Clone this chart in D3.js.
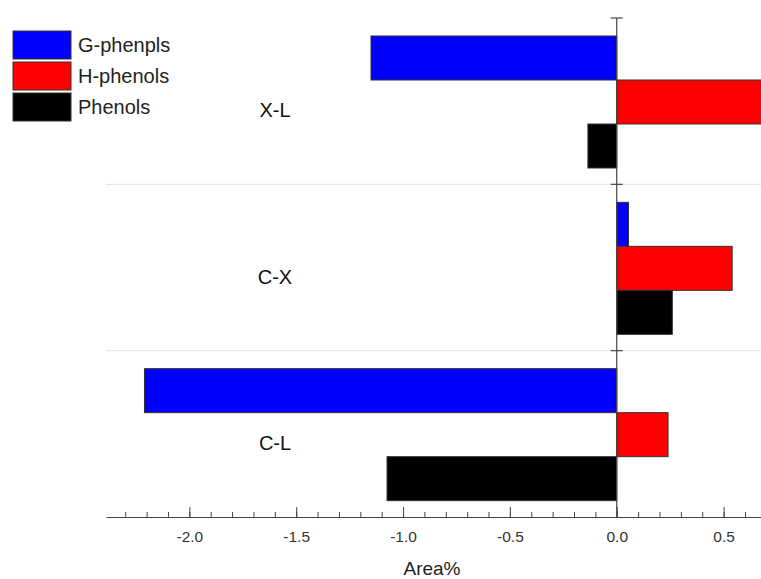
<!DOCTYPE html>
<html>
<head>
<meta charset="utf-8">
<script src="https://cdn.jsdelivr.net/npm/d3@7"></script>
<style>
  body { margin: 0; background: #fff; }
  svg { font-family: "Liberation Sans", Arial, sans-serif; }
</style>
</head>
<body>
<svg width="761" height="579"></svg>
<script>
// groups top to bottom, series in each group
var groups = ["X-L", "C-X", "C-L"];
var series = ["G-phenpls", "H-phenols", "Phenols"];
var colors = ["#0000ff", "#ff0000", "#000000"];

// values per series, same order as groups
var gPhen = [-1.15, 0.055, -2.21];
var hPhen = [0.72, 0.54, 0.24];
var phen  = [-0.135, 0.26, -1.075];

var majorTicks = [-2.0, -1.5, -1.0, -0.5, 0.0, 0.5];

var svg = d3.select("svg"),
    plotLeft = 106, plotRight = 761, plotTop = 18, plotBottom = 517;

var x = d3.scaleLinear().domain([-2.39, 0.675]).range([plotLeft, plotRight]);
var y = d3.scaleBand().domain(groups).range([plotTop, plotBottom]);
var ySub = d3.scaleBand().domain(series).range([18, 150]);

var rows = [];
groups.forEach(function(g, i) {
  rows.push({group: g, s: series[0], v: gPhen[i], c: colors[0]});
  rows.push({group: g, s: series[1], v: hPhen[i], c: colors[1]});
  rows.push({group: g, s: series[2], v: phen[i], c: colors[2]});
});

svg.append("clipPath").attr("id", "plot")
  .append("rect").attr("x", plotLeft).attr("y", 0)
  .attr("width", plotRight - plotLeft).attr("height", plotBottom);

// separators between groups
svg.selectAll(".sep")
  .data(groups.slice(1))
  .enter().append("line")
    .attr("x1", plotLeft).attr("x2", plotRight)
    .attr("y1", function(d) { return y(d); })
    .attr("y2", function(d) { return y(d); })
    .attr("stroke", "#e2e2e2").attr("stroke-width", 1);

// bars
svg.append("g").attr("clip-path", "url(#plot)")
  .selectAll("rect")
  .data(rows)
  .enter().append("rect")
    .attr("x", function(d) { return x(Math.min(0, d.v)); })
    .attr("y", function(d) { return y(d.group) + ySub(d.s); })
    .attr("width", function(d) { return Math.abs(x(d.v) - x(0)); })
    .attr("height", ySub.bandwidth())
    .attr("fill", function(d) { return d.c; })
    .attr("stroke", "#333").attr("stroke-width", 1);

// zero line with small ticks at group boundaries
svg.append("line")
  .attr("x1", x(0)).attr("x2", x(0)).attr("y1", plotTop).attr("y2", plotBottom)
  .attr("stroke", "#444").attr("stroke-width", 1.2);
svg.selectAll(".zt")
  .data(groups)
  .enter().append("line")
    .attr("x1", x(0) - 6).attr("x2", x(0) + 6)
    .attr("y1", function(d) { return y(d); })
    .attr("y2", function(d) { return y(d); })
    .attr("stroke", "#444").attr("stroke-width", 1.2);

// group labels
svg.selectAll(".glab")
  .data(groups)
  .enter().append("text")
    .attr("x", 275)
    .attr("y", function(d) { return y(d) + y.bandwidth() / 2 + 16; })
    .attr("text-anchor", "middle")
    .attr("font-size", 20).attr("fill", "#111")
    .text(function(d) { return d; });

// x axis: minor ticks then major ticks with labels
var minor = d3.range(-23, 7).map(function(d) { return d / 10; });
svg.append("g")
  .attr("transform", "translate(0," + plotBottom + ")")
  .call(d3.axisBottom(x).tickValues(minor).tickSize(-5).tickFormat("").tickSizeOuter(0))
  .call(function(g) { g.select(".domain").remove(); })
  .selectAll("line").attr("stroke", "#444");

var ax = svg.append("g")
  .attr("transform", "translate(0," + plotBottom + ")")
  .call(d3.axisBottom(x).tickValues(majorTicks).tickSize(-10).tickSizeOuter(0)
    .tickFormat(function(d) { return d.toFixed(1); }));
ax.select(".domain").attr("stroke", "#444").attr("stroke-width", 1.2);
ax.selectAll("line").attr("stroke", "#444");
ax.selectAll("text")
  .attr("font-size", 15.5).attr("fill", "#333")
  .attr("font-family", "Liberation Sans, Arial, sans-serif")
  .attr("y", 14);

svg.append("text")
  .attr("x", 432).attr("y", 575)
  .attr("text-anchor", "middle")
  .attr("font-size", 19).attr("fill", "#222")
  .text("Area%");

// legend
var leg = svg.append("g").selectAll("g")
  .data(series)
  .enter().append("g")
    .attr("transform", function(d, i) { return "translate(13," + (31 + i * 31) + ")"; });
leg.append("rect")
  .attr("width", 58).attr("height", 28)
  .attr("fill", function(d, i) { return colors[i]; })
  .attr("stroke", "#333").attr("stroke-width", 1);
leg.append("text")
  .attr("x", 65).attr("y", 21)
  .attr("font-size", 20).attr("fill", "#222")
  .text(function(d) { return d; });
</script>
</body>
</html>
